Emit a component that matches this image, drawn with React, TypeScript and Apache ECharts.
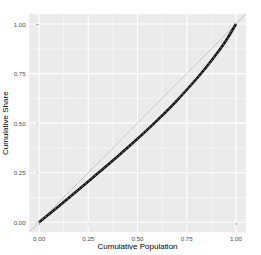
import React, { useEffect, useRef } from "react";
import * as echarts from "echarts";

const popShare = [0, 0.1, 0.2, 0.3, 0.4, 0.5, 0.6, 0.7, 0.8, 0.85, 0.9, 0.95, 1.0];
const cumShare = [0, 0.081, 0.164, 0.248, 0.333, 0.421, 0.514, 0.614, 0.724, 0.783, 0.847, 0.917, 1.0];
const equality = [-0.05, 1.05];
const majorTicks = [0, 0.25, 0.5, 0.75, 1.0];
const minorTicks = [0.125, 0.375, 0.625, 0.875];
const axisMin = -0.05;
const axisMax = 1.05;
const xTitle = "Cumulative Population";
const yTitle = "Cumulative Share";

export default function App() {
  const ref = useRef<HTMLDivElement>(null);
  useEffect(() => {
    if (!ref.current) return;
    const chart = echarts.init(ref.current, null, { renderer: "svg" });
    const curve = popShare.map((x, i) => [x, cumShare[i]]);
    const fmt = (v: number) => v.toFixed(2);
    const gridSeries: any[] = [];
    const addGrid = (v: number, w: number, vertical: boolean) => {
      gridSeries.push({
        type: "line",
        data: vertical ? [[v, axisMin], [v, axisMax]] : [[axisMin, v], [axisMax, v]],
        showSymbol: false,
        silent: true,
        z: 1,
        lineStyle: { color: "#FFFFFF", width: w },
      });
    };
    minorTicks.forEach((v) => { addGrid(v, 0.55, true); addGrid(v, 0.55, false); });
    majorTicks.forEach((v) => { addGrid(v, 1.1, true); addGrid(v, 1.1, false); });
    const font = "Liberation Sans, Arial, sans-serif";
    const axisCommon = {
      type: "value" as const,
      min: axisMin,
      max: axisMax,
      splitLine: { show: false },
      axisLine: { show: false },
      axisTick: { show: true, customValues: majorTicks, length: 2.7, lineStyle: { color: "#333333", width: 1 } },
      axisLabel: {
        customValues: majorTicks,
        formatter: fmt,
        color: "#4D4D4D",
        fontSize: 6.2,
        fontFamily: font,
        margin: 3.5,
      },
    };
    chart.setOption({
      animation: false,
      grid: {
        left: 29.2,
        right: 15.2,
        top: 14.1,
        bottom: 22.8,
        show: true,
        backgroundColor: "#EBEBEB",
        borderWidth: 0,
      },
      xAxis: { ...axisCommon },
      yAxis: { ...axisCommon },
      graphic: [
        {
          type: "text",
          x: 137.5,
          y: 246.7,
          style: { text: xTitle, fill: "#000000", fontSize: 8, fontFamily: font, align: "center", verticalAlign: "middle" },
        },
        {
          type: "text",
          x: 5.8,
          y: 123.2,
          rotation: Math.PI / 2,
          style: { text: yTitle, fill: "#000000", fontSize: 8, fontFamily: font, align: "center", verticalAlign: "middle" },
        },
      ],
      series: [
        ...gridSeries,
        {
          type: "line",
          data: equality.map((v) => [v, v]),
          showSymbol: false,
          silent: true,
          lineStyle: { color: "#C4C4C4", width: 1 },
          z: 2,
        },
        {
          type: "line",
          data: curve,
          smooth: 0.3,
          showSymbol: false,
          silent: true,
          z: 3,
          lineStyle: { color: "#111111", width: 2.6 },
        },
        {
          type: "line",
          data: curve,
          smooth: 0.3,
          showSymbol: false,
          silent: true,
          z: 4,
          lineStyle: { color: "#9A9A9A", width: 0.8, type: [2, 2] },
        },
      ],
    });
    return () => chart.dispose();
  }, []);
  return <div ref={ref} style={{ width: 261, height: 255, position: "absolute", left: 0, top: 0 }} />;
}
